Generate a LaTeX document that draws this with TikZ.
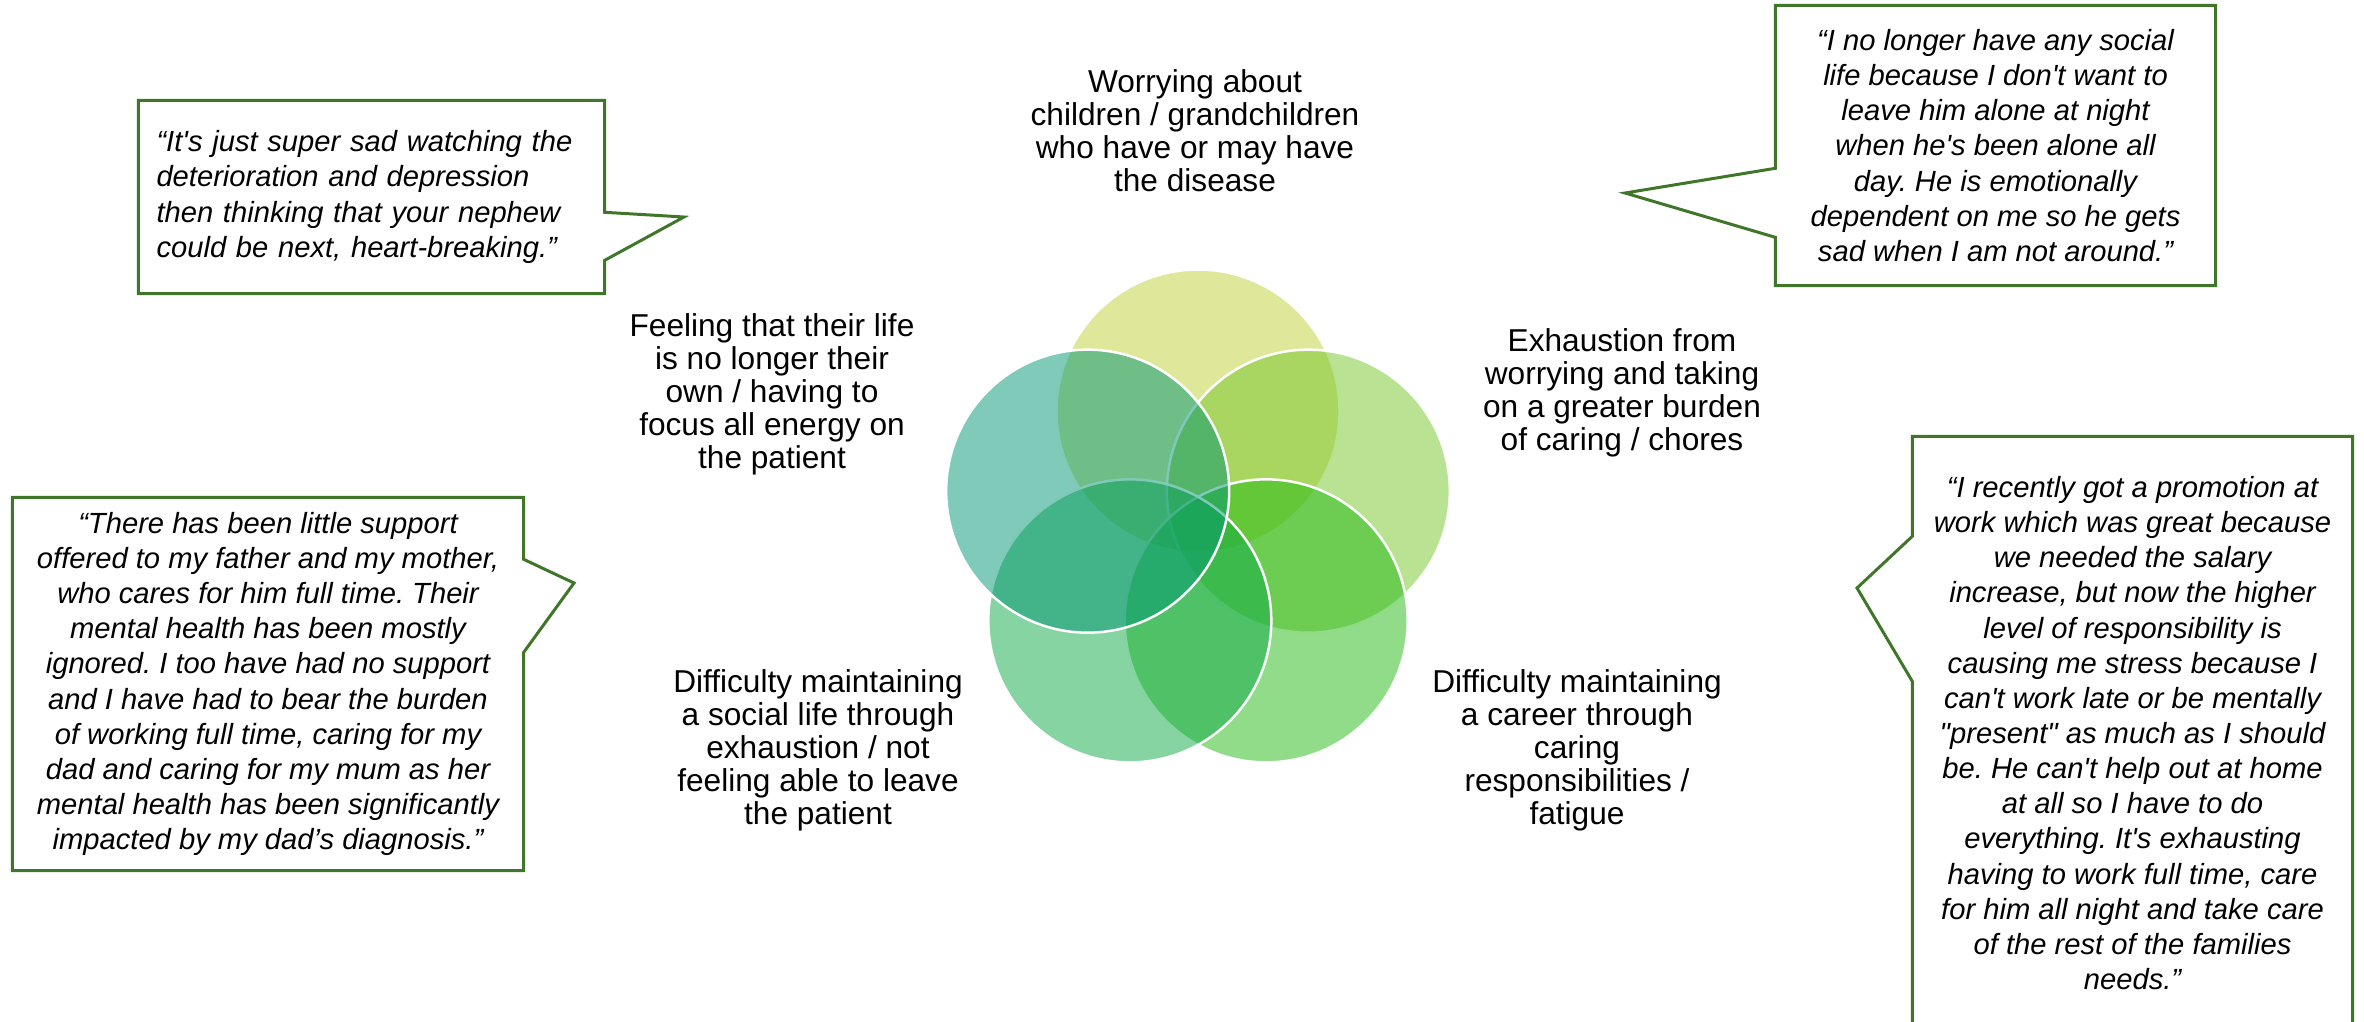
\documentclass[tikz,border=0pt]{standalone}
\usepackage{fontspec}
\setmainfont{Liberation Sans}
\newfontfamily\arialfont{Liberation Sans}
\usetikzlibrary{positioning, calc}

\definecolor{vtop}{RGB}{191,207,55}
\definecolor{vright}{RGB}{115,199,39}
\definecolor{vbotright}{RGB}{33,185,19}
\definecolor{vbotleft}{RGB}{15,169,71}
\definecolor{vleft}{RGB}{1,149,115}
\definecolor{balloongreen}{RGB}{64,118,42}

\begin{document}
\frenchspacing
\begin{tikzpicture}[
  petal/.style={circle, draw=white, line width=0.7pt, fill opacity=0.5, draw opacity=1, minimum size=2.83cm, inner sep=0pt},
  theme/.style={align=center, inner sep=0pt, font=\arialfont\fontsize{9}{9.4}\selectfont},
  quote/.style={align=center, inner sep=0pt, font=\arialfont\fontsize{8.3}{10}\selectfont\itshape},
  balloon/.style={draw=balloongreen, line width=0.85pt, line join=miter},
]
\useasboundingbox (0,0) rectangle (23.64,-10.21);

% --- five overlapping circles, drawn top, right, bottom right, bottom left, left
\coordinate (ctr) at (11.98,-5.27);
\node[petal, fill=vtop]      (ptop)  at ($(ctr)+(90:1.16)$) {};
\node[petal, fill=vright]    (prt)   at ($(ctr)+(18:1.16)$) {};
\node[petal, fill=vbotright] (pbr)   at ($(ctr)+(-54:1.16)$) {};
\node[petal, fill=vbotleft]  (pbl)   at ($(ctr)+(-126:1.16)$) {};
\node[petal, fill=vleft]     (plt)   at ($(ctr)+(162:1.16)$) {};

% --- the five themes
\node[theme] (ttop) at (11.95,-1.31) {Worrying about\\ children / grandchildren\\ who have or may have\\ the disease};
\node[theme] (tlt) at (7.72,-3.94) {Feeling that their life\\ is no longer their\\ own / having to\\ focus all energy on\\ the patient};
\node[theme] (trt) at (16.22,-3.93) {Exhaustion from\\ worrying and taking\\ on a greater burden\\ of caring / chores};
\node[theme] (tbl) at (8.18,-7.50) {Difficulty maintaining\\ a social life through\\ exhaustion / not\\ feeling able to leave\\ the patient};
\node[theme] (tbr) at (15.77,-7.50) {Difficulty maintaining\\ a career through\\ caring\\ responsibilities /\\ fatigue};

% --- quotes in speech balloons
\node[quote, align=left, text width=4.3cm, minimum width=4.65cm, minimum height=1.92cm] (q1) at (3.715,-1.97)
  {“It's just super sad watching the\\ deterioration and depression\\ then thinking that your nephew\\ could be next, heart-breaking.”};
\coordinate (tip1) at (6.84,-2.17);
\draw[balloon] (q1.north west) -- (q1.north east) -- ($(q1.north east)+(0,-1.12)$) -- (tip1)
  -- ($(q1.north east)+(0,-1.60)$) -- (q1.south east) -- (q1.south west) -- cycle;

\node[quote, minimum width=4.39cm, minimum height=2.79cm] (q2) at (19.955,-1.455)
  {“I no longer have any social\\ life because I don't want to\\ leave him alone at night\\ when he's been alone all\\ day. He is emotionally\\ dependent on me so he gets\\ sad when I am not around.”};
\coordinate (tip2) at (16.25,-1.93);
\draw[balloon] (q2.north west) -- (q2.north east) -- (q2.south east) -- (q2.south west)
  -- ($(q2.north west)+(0,-2.32)$) -- (tip2) -- ($(q2.north west)+(0,-1.63)$) -- cycle;

\node[quote, minimum width=5.10cm, minimum height=3.72cm] (q3) at (2.68,-6.84)
  {“There has been little support\\ offered to my father and my mother,\\ who cares for him full time. Their\\ mental health has been mostly\\ ignored. I too have had no support\\ and I have had to bear the burden\\ of working full time, caring for my\\ dad and caring for my mum as her\\ mental health has been significantly\\ impacted by my dad’s diagnosis.”};
\coordinate (tip3) at (5.74,-5.83);
\draw[balloon] (q3.north west) -- (q3.north east) -- ($(q3.north east)+(0,-0.62)$) -- (tip3)
  -- ($(q3.north east)+(0,-1.55)$) -- (q3.south east) -- (q3.south west) -- cycle;

\node[quote, minimum width=4.39cm, minimum height=5.92cm] (q4) at (21.325,-7.33)
  {“I recently got a promotion at\\ work which was great because\\ we needed the salary\\ increase, but now the higher\\ level of responsibility is\\ causing me stress because I\\ can't work late or be mentally\\ "present" as much as I should\\ be. He can't help out at home\\ at all so I have to do\\ everything. It's exhausting\\ having to work full time, care\\ for him all night and take care\\ of the rest of the families\\ needs.”};
\coordinate (tip4) at (18.57,-5.88);
\draw[balloon] (q4.south west) -- ($(q4.north west)+(0,-2.45)$) -- (tip4) -- ($(q4.north west)+(0,-1.00)$)
  -- (q4.north west) -- (q4.north east) -- (q4.south east);

\end{tikzpicture}
\end{document}
